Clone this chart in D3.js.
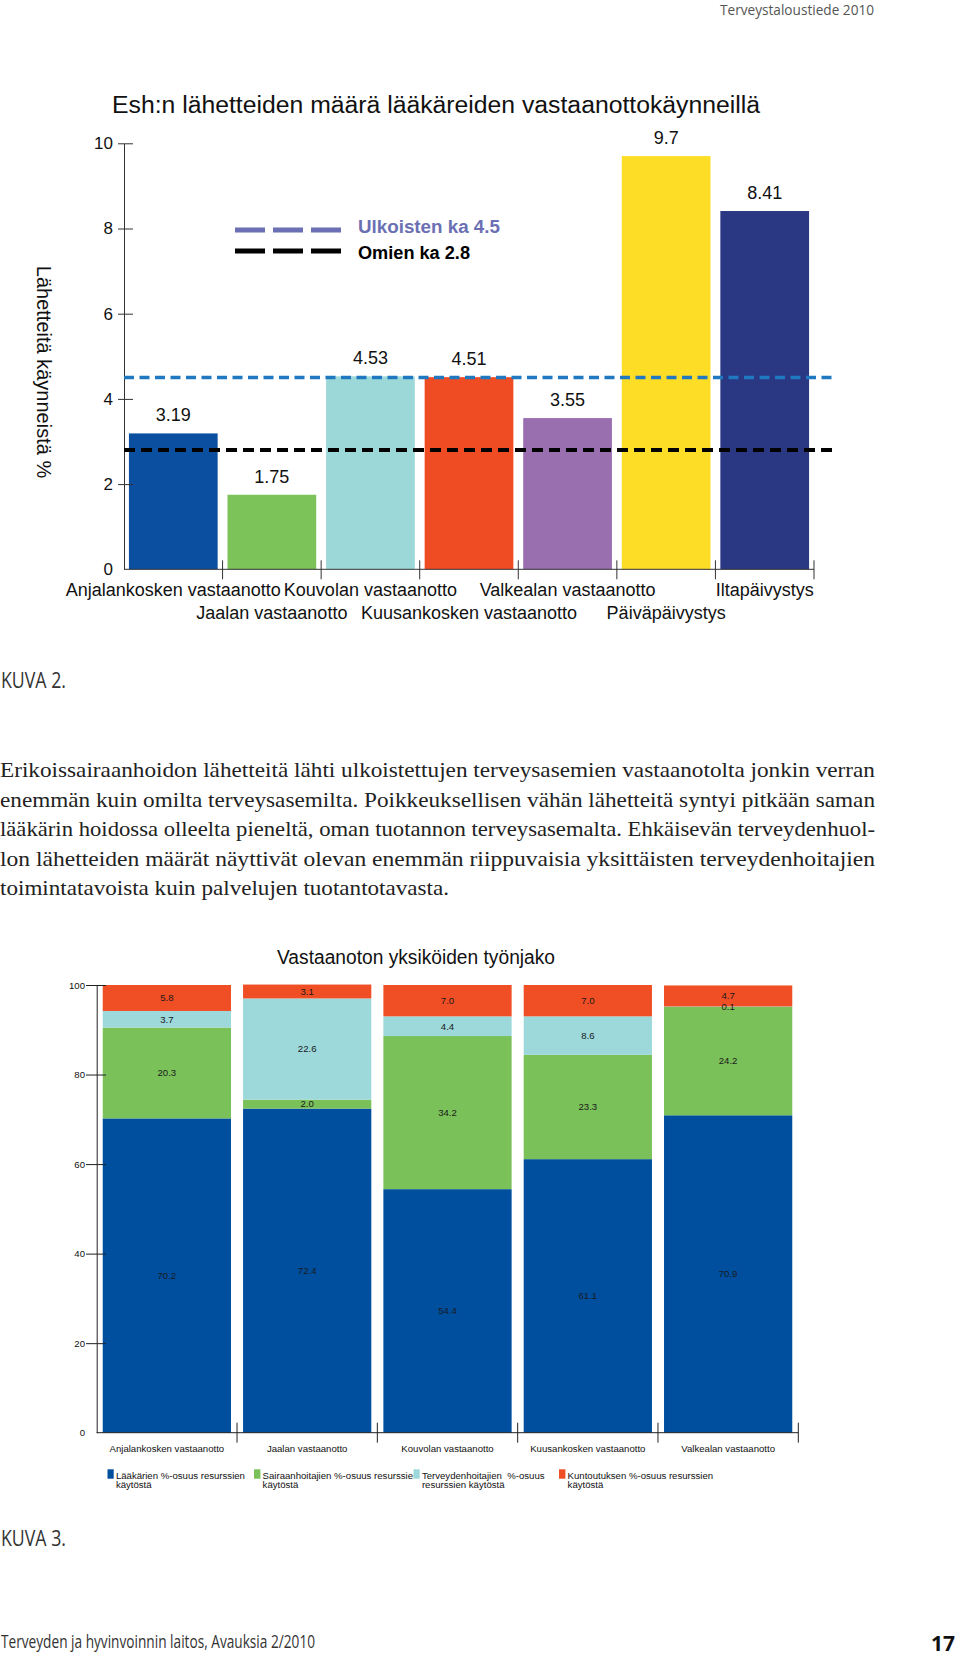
<!DOCTYPE html>
<html>
<head>
<meta charset="utf-8">
<script src="https://cdn.jsdelivr.net/npm/d3@7"></script>
<style>
  body { margin: 0; background: #fff; }
  svg { display: block; }
</style>
</head>
<body>
<svg id="page" width="960" height="1656"></svg>
<script>
// chart 1 data
const barCategories = ['Anjalankosken vastaanotto', 'Jaalan vastaanotto', 'Kouvolan vastaanotto',
  'Kuusankosken vastaanotto', 'Valkealan vastaanotto', 'Päiväpäivystys', 'Iltapäivystys']
const barValues = [3.19, 1.75, 4.53, 4.51, 3.55, 9.7, 8.41]
const barColors = ['#0a4fa0', '#7cc35a', '#9dd8d9', '#f04c24', '#9a6fb0', '#fedd27', '#2a3783']
const yTicks1 = [0, 2, 4, 6, 8, 10]
const refLabels = ['Ulkoisten ka 4.5', 'Omien ka 2.8']
const refValues = [4.5, 2.8]

// chart 2 data
const units = ['Anjalankosken vastaanotto', 'Jaalan vastaanotto', 'Kouvolan vastaanotto',
  'Kuusankosken vastaanotto', 'Valkealan vastaanotto']
const laakarit = [70.2, 72.4, 54.4, 61.1, 70.9]
const sairaanhoitajat = [20.3, 2.0, 34.2, 23.3, 24.2]
const terveydenhoitajat = [3.7, 22.6, 4.4, 8.6, 0.1]
const kuntoutus = [5.8, 3.1, 7.0, 7.0, 4.7]
const seriesKeys = ['laakarit', 'sairaanhoitajat', 'terveydenhoitajat', 'kuntoutus']
const seriesLegend = [
  ['Lääkärien %-osuus resurssien', 'käytöstä'],
  ['Sairaanhoitajien %-osuus resurssien', 'käytöstä'],
  ['Terveydenhoitajien  %-osuus', 'resurssien käytöstä'],
  ['Kuntoutuksen %-osuus resurssien', 'käytöstä']
]
const seriesColors = ['#004f9f', '#7ac15a', '#9dd8da', '#f04e25']
const yTicks2 = [0, 20, 40, 60, 80, 100]

const paragraph = [
  'Erikoissairaanhoidon lähetteitä lähti ulkoistettujen terveysasemien vastaanotolta jonkin verran',
  'enemmän kuin omilta terveysasemilta. Poikkeuksellisen vähän lähetteitä syntyi pitkään saman',
  'lääkärin hoidossa olleelta pieneltä, oman tuotannon terveysasemalta. Ehkäisevän terveydenhuol-',
  'lon lähetteiden määrät näyttivät olevan enemmän riippuvaisia yksittäisten terveydenhoitajien',
  'toimintatavoista kuin palvelujen tuotantotavasta.'
]

const sans = 'Liberation Sans, Arial, sans-serif'
const narrow = "'Liberation Sans Narrow', 'Open Sans', sans-serif"
const serif = "'Liberation Serif', 'DejaVu Serif', serif"
const formatNumber = d3.format('.1f')

const svg = d3.select('#page')
svg.append('rect').attr('width', 960).attr('height', 1656).attr('fill', '#fff')

// page texts
svg.append('text').attr('x', 720).attr('y', 15).attr('textLength', 154).attr('lengthAdjust', 'spacingAndGlyphs')
  .style('font-family', narrow).style('font-size', '15px').attr('fill', '#555')
  .text('Terveystaloustiede 2010')

svg.append('text').attr('x', 1).attr('y', 688).attr('textLength', 65).attr('lengthAdjust', 'spacingAndGlyphs')
  .style('font-family', narrow).style('font-size', '22px').attr('fill', '#333')
  .text('KUVA 2.')

svg.append('text').attr('x', 1).attr('y', 1546).attr('textLength', 65).attr('lengthAdjust', 'spacingAndGlyphs')
  .style('font-family', narrow).style('font-size', '22px').attr('fill', '#333')
  .text('KUVA 3.')

svg.append('text').attr('x', 1).attr('y', 1648).attr('textLength', 314).attr('lengthAdjust', 'spacingAndGlyphs')
  .style('font-family', narrow).style('font-size', '19px').attr('fill', '#333')
  .text('Terveyden ja hyvinvoinnin laitos, Avauksia 2/2010')

svg.append('text').attr('x', 955).attr('y', 1651).attr('text-anchor', 'end')
  .style('font-family', narrow).style('font-size', '21px').style('font-weight', 'bold').attr('fill', '#111')
  .text('17')

// paragraph, justified like the printed page
const lineWidths = [875, 875, 875, 875, 449]
svg.append('g').selectAll('text')
  .data(paragraph)
  .enter()
  .append('text')
  .attr('x', 0)
  .attr('y', (d, i) => 777 + i * 29.5)
  .attr('textLength', (d, i) => lineWidths[i])
  .attr('lengthAdjust', 'spacingAndGlyphs')
  .style('font-family', serif).style('font-size', '21px').attr('fill', '#222')
  .text(d => d)

// ---------- chart 1 ----------
const c1 = svg.append('g')
const x1 = d3.scaleBand().domain(barCategories).range([124, 814]).paddingInner(0.1).paddingOuter(0.05)
const y1 = d3.scaleLinear().domain([0, 10]).range([569.3, 143.3])

c1.append('text').attr('x', 112).attr('y', 113)
  .attr('textLength', 648).attr('lengthAdjust', 'spacingAndGlyphs')
  .style('font-family', sans).style('font-size', '23px').attr('fill', '#111')
  .text('Esh:n lähetteiden määrä lääkäreiden vastaanottokäynneillä')

c1.append('text')
  .attr('transform', 'translate(37,372) rotate(90)')
  .attr('text-anchor', 'middle')
  .style('font-family', sans).style('font-size', '20px').attr('fill', '#111')
  .text('Lähetteitä käynneistä %')

c1.selectAll('.bar')
  .data(barValues)
  .enter()
  .append('rect')
  .attr('class', 'bar')
  .attr('x', (d, i) => x1(barCategories[i]))
  .attr('y', d => y1(d))
  .attr('width', x1.bandwidth())
  .attr('height', d => y1(0) - y1(d))
  .attr('fill', (d, i) => barColors[i])

c1.selectAll('.barLabel')
  .data(barValues)
  .enter()
  .append('text')
  .attr('class', 'barLabel')
  .attr('x', (d, i) => x1(barCategories[i]) + x1.bandwidth() / 2)
  .attr('y', d => y1(d) - 12)
  .attr('text-anchor', 'middle')
  .style('font-family', sans).style('font-size', '18px').attr('fill', '#111')
  .text(d => d)

const yAxis1 = c1.append('g')
  .attr('transform', 'translate(124,0)')
  .call(d3.axisLeft(y1).tickValues(yTicks1).tickFormat(d3.format('d')).tickSizeOuter(0))
yAxis1.select('.domain').attr('stroke', '#333')
yAxis1.selectAll('.tick line').attr('x1', -6).attr('x2', 9).attr('stroke', '#333')
  .filter(d => d === 0).remove()
yAxis1.selectAll('.tick text').attr('x', -11)
  .style('font-family', sans).style('font-size', '17px').attr('fill', '#111')

// x axis
c1.append('line').attr('x1', 124).attr('x2', 814).attr('y1', y1(0)).attr('y2', y1(0)).attr('stroke', '#333')
c1.selectAll('.xTick')
  .data(barCategories)
  .enter()
  .append('line')
  .attr('class', 'xTick')
  .attr('x1', d => x1(d) - x1.step() * x1.paddingInner() / 2 + x1.step())
  .attr('x2', d => x1(d) - x1.step() * x1.paddingInner() / 2 + x1.step())
  .attr('y1', y1(0) - 9)
  .attr('y2', y1(0) + 10)
  .attr('stroke', '#333')

c1.selectAll('.xLabel')
  .data(barCategories)
  .enter()
  .append('text')
  .attr('class', 'xLabel')
  .attr('x', d => x1(d) + x1.bandwidth() / 2)
  .attr('y', (d, i) => i % 2 === 0 ? 596 : 619)
  .attr('text-anchor', 'middle')
  .style('font-family', sans).style('font-size', '18px').attr('fill', '#111')
  .text(d => d)

// average lines
const refStyles = [
  { color: '#1f78c0', width: 3.5, dash: '10,5.5' },
  { color: '#000', width: 4, dash: '11,6' }
]
c1.selectAll('.refLine')
  .data(refValues)
  .enter()
  .append('line')
  .attr('class', 'refLine')
  .attr('x1', 124).attr('x2', 833)
  .attr('y1', d => y1(d)).attr('y2', d => y1(d))
  .attr('stroke', (d, i) => refStyles[i].color)
  .attr('stroke-width', (d, i) => refStyles[i].width)
  .attr('stroke-dasharray', (d, i) => refStyles[i].dash)

const legendColors1 = ['#6b6fb4', '#000']
const legendWidths1 = [142, 112]
const legend1 = c1.selectAll('.legend1')
  .data(refLabels)
  .enter()
  .append('g')
  .attr('class', 'legend1')
  .attr('transform', (d, i) => `translate(0,${i * 21})`)
legend1.append('line')
  .attr('x1', 235).attr('x2', 341).attr('y1', 230).attr('y2', 230)
  .attr('stroke', (d, i) => legendColors1[i])
  .attr('stroke-width', 5)
  .attr('stroke-dasharray', '30,8')
legend1.append('text')
  .attr('x', 358).attr('y', (d, i) => 233 + i * 5)
  .attr('textLength', (d, i) => legendWidths1[i]).attr('lengthAdjust', 'spacingAndGlyphs')
  .style('font-family', sans).style('font-size', '18px').style('font-weight', 'bold')
  .attr('fill', (d, i) => legendColors1[i])
  .text(d => d)

// ---------- chart 2 ----------
const c2 = svg.append('g')
const x2 = d3.scaleBand().domain(units).range([96.7, 798.3]).paddingInner(0.086).paddingOuter(0.043)
const y2 = d3.scaleLinear().domain([0, 100]).range([1432.7, 985])

const rows = units.map((u, i) => ({
  unit: u,
  laakarit: laakarit[i],
  sairaanhoitajat: sairaanhoitajat[i],
  terveydenhoitajat: terveydenhoitajat[i],
  kuntoutus: kuntoutus[i]
}))
const stacked = d3.stack().keys(seriesKeys)(rows)

c2.append('text').attr('x', 277).attr('y', 964)
  .attr('textLength', 278).attr('lengthAdjust', 'spacingAndGlyphs')
  .style('font-family', sans).style('font-size', '20px').attr('fill', '#111')
  .text('Vastaanoton yksiköiden työnjako')

const layers = c2.selectAll('.layer')
  .data(stacked)
  .enter()
  .append('g')
  .attr('class', 'layer')
  .attr('fill', (d, i) => seriesColors[i])

layers.selectAll('rect')
  .data(d => d)
  .enter()
  .append('rect')
  .attr('x', d => x2(d.data.unit))
  .attr('y', d => y2(d[1]))
  .attr('width', x2.bandwidth())
  .attr('height', d => y2(d[0]) - y2(d[1]))

// segment labels on top of every layer
const segLabels = stacked.flatMap(layer => layer.map(s => ({ s, key: layer.key })))
c2.append('g').selectAll('text')
  .data(segLabels)
  .enter()
  .append('text')
  .attr('x', d => x2(d.s.data.unit) + x2.bandwidth() / 2)
  .attr('y', d => y2((d.s[0] + d.s[1]) / 2))
  .attr('dy', '0.35em')
  .attr('text-anchor', 'middle')
  .style('font-family', sans).style('font-size', '9.6px').attr('fill', '#1a1a1a')
  .text(d => formatNumber(d.s.data[d.key]))

const yAxis2 = c2.append('g')
  .attr('transform', 'translate(96.7,0)')
  .call(d3.axisLeft(y2).tickValues(yTicks2).tickSizeOuter(0))
yAxis2.select('.domain').attr('stroke', '#222')
yAxis2.selectAll('.tick line').attr('x1', -10.7).attr('x2', 9.3).attr('stroke', '#222')
  .filter(d => d === 0).remove()
yAxis2.selectAll('.tick text').attr('x', -11.7)
  .style('font-family', sans).style('font-size', '9.6px').attr('fill', '#111')

c2.append('line').attr('x1', 96.7).attr('x2', 798.3).attr('y1', y2(0)).attr('y2', y2(0)).attr('stroke', '#222')
c2.selectAll('.xTick2')
  .data(units)
  .enter()
  .append('line')
  .attr('class', 'xTick2')
  .attr('x1', d => x2(d) - x2.step() * x2.paddingInner() / 2 + x2.step())
  .attr('x2', d => x2(d) - x2.step() * x2.paddingInner() / 2 + x2.step())
  .attr('y1', y2(0) - 10)
  .attr('y2', y2(0) + 10)
  .attr('stroke', '#222')

c2.selectAll('.xLabel2')
  .data(units)
  .enter()
  .append('text')
  .attr('class', 'xLabel2')
  .attr('x', d => x2(d) + x2.bandwidth() / 2)
  .attr('y', 1452)
  .attr('text-anchor', 'middle')
  .style('font-family', sans).style('font-size', '9.6px').attr('fill', '#111')
  .text(d => d)

// legend
const legendX = [107.3, 254, 413.3, 559]
const defs = svg.append('defs')
legendX.forEach((x, i) => {
  const next = i < legendX.length - 1 ? legendX[i + 1] : 960
  defs.append('clipPath').attr('id', 'legClip' + i)
    .append('rect').attr('x', x).attr('y', 1460).attr('width', next - x).attr('height', 40)
})
const legend2 = c2.selectAll('.legend2')
  .data(seriesLegend)
  .enter()
  .append('g')
  .attr('class', 'legend2')
  .attr('clip-path', (d, i) => `url(#legClip${i})`)
legend2.append('rect')
  .attr('x', (d, i) => legendX[i]).attr('y', 1469.3)
  .attr('width', 6.4).attr('height', 9.4)
  .attr('fill', (d, i) => seriesColors[i])
legend2.append('text')
  .attr('x', (d, i) => legendX[i] + 8.6)
  .attr('y', 1478.7)
  .style('font-family', sans).style('font-size', '9.6px').attr('fill', '#111')
  .style('white-space', 'pre')
  .text(d => d[0])
legend2.append('text')
  .attr('x', (d, i) => legendX[i] + 8.6)
  .attr('y', 1488.3)
  .style('font-family', sans).style('font-size', '9.6px').attr('fill', '#111')
  .text(d => d[1])
</script>
</body>
</html>
